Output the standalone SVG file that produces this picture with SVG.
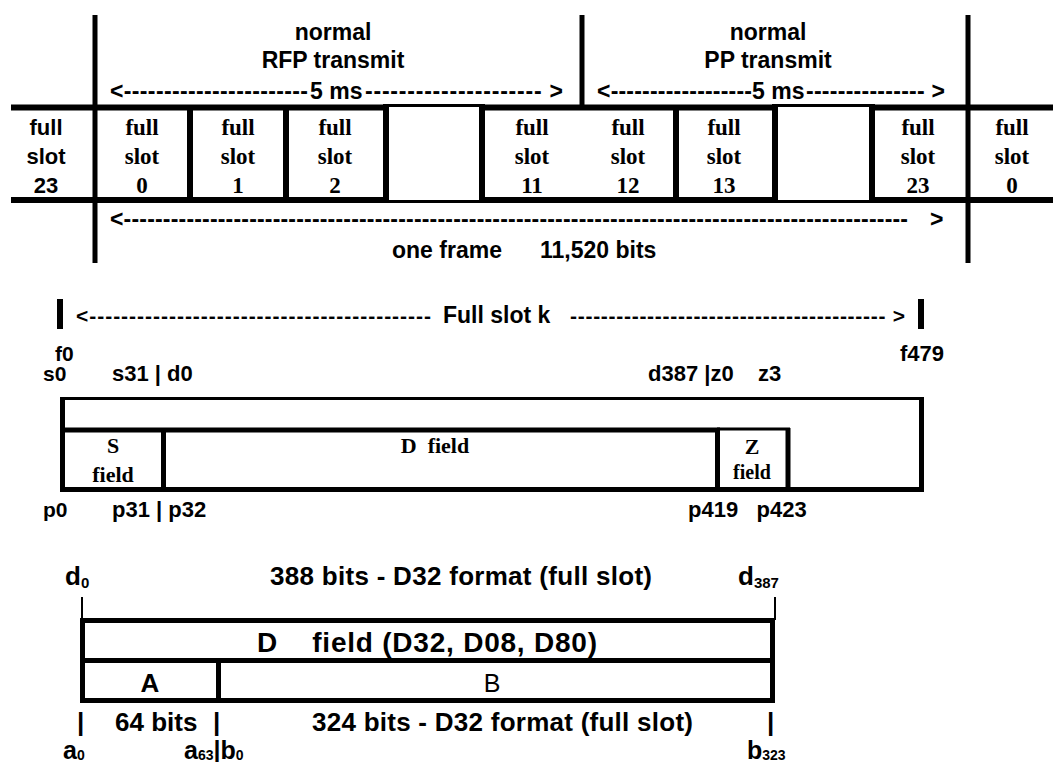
<svg xmlns="http://www.w3.org/2000/svg" width="1053" height="762" viewBox="0 0 1053 762">
<style>
.s{font-family:"Liberation Sans",Arial,sans-serif;font-weight:bold;fill:#000}
.n{font-family:"Liberation Sans",Arial,sans-serif;font-weight:normal;fill:#000}
.t{font-family:"Liberation Serif","Times New Roman",serif;font-weight:bold;fill:#000}
.c{text-anchor:middle}
.k{stroke:#000;fill:none;stroke-linecap:butt}
</style>
<rect width="1053" height="762" fill="#fff"/>

<!-- Section 1: frame -->
<g id="frame">
  <line class="k" x1="95" y1="15" x2="95" y2="263" stroke-width="5"/>
  <line class="k" x1="968" y1="15" x2="968" y2="263" stroke-width="5"/>
  <line class="k" x1="582" y1="15" x2="582" y2="110" stroke-width="5"/>
  <line class="k" x1="11" y1="107.5" x2="389" y2="107.5" stroke-width="6"/>
  <line class="k" x1="479" y1="107.5" x2="778" y2="107.5" stroke-width="6"/>
  <line class="k" x1="869" y1="107.5" x2="1053" y2="107.5" stroke-width="6"/>
  <line class="k" x1="11" y1="200" x2="389" y2="200" stroke-width="6"/>
  <line class="k" x1="479" y1="200" x2="778" y2="200" stroke-width="6"/>
  <line class="k" x1="869" y1="200" x2="1053" y2="200" stroke-width="6"/>
  <line class="k" x1="386" y1="105.5" x2="482" y2="105.5" stroke-width="3"/>
  <line class="k" x1="386" y1="201.5" x2="482" y2="201.5" stroke-width="3"/>
  <line class="k" x1="775" y1="105.5" x2="872" y2="105.5" stroke-width="3"/>
  <line class="k" x1="775" y1="201.5" x2="872" y2="201.5" stroke-width="3"/>
  <line class="k" x1="190" y1="105" x2="190" y2="203" stroke-width="6"/>
  <line class="k" x1="286" y1="105" x2="286" y2="203" stroke-width="6"/>
  <line class="k" x1="386" y1="104" x2="386" y2="203" stroke-width="6"/>
  <line class="k" x1="482" y1="104" x2="482" y2="203" stroke-width="6"/>
  <line class="k" x1="676" y1="105" x2="676" y2="203" stroke-width="6"/>
  <line class="k" x1="775" y1="104" x2="775" y2="203" stroke-width="6"/>
  <line class="k" x1="872" y1="104" x2="872" y2="203" stroke-width="6"/>
</g>

<g id="frame-labels" class="s" font-size="23">
  <text class="c" x="333" y="40">normal</text>
  <text class="c" x="333" y="68">RFP transmit</text>
  <text x="110" y="99" textLength="198">&lt;-----------------------</text>
  <text x="310" y="99">5 ms</text>
  <text x="365" y="99" textLength="198">--------------------- &gt;</text>
  <text class="c" x="768" y="40">normal</text>
  <text class="c" x="768" y="68">PP transmit</text>
  <text x="597" y="99" textLength="155">&lt;------------------</text>
  <text x="752" y="99">5 ms</text>
  <text x="806" y="99" textLength="139">--------------- &gt;</text>
  <text x="110" y="227" textLength="798">&lt;----------------------------------------------------------------------------------------------------</text>
  <text x="930" y="227">&gt;</text>
  <text x="392" y="258">one frame</text>
  <text x="540" y="258">11,520 bits</text>
</g>

<g id="slots">
  <text class="s c" font-size="22" x="46"><tspan x="46" y="135">full</tspan><tspan x="46" y="164">slot</tspan><tspan x="46" y="193">23</tspan></text>
  <g class="t c" font-size="23">
    <text x="142"><tspan x="142" y="135">full</tspan><tspan x="142" y="164">slot</tspan><tspan x="142" y="193">0</tspan></text>
    <text x="238"><tspan x="238" y="135">full</tspan><tspan x="238" y="164">slot</tspan><tspan x="238" y="193">1</tspan></text>
    <text x="335"><tspan x="335" y="135">full</tspan><tspan x="335" y="164">slot</tspan><tspan x="335" y="193">2</tspan></text>
    <text x="532"><tspan x="532" y="135">full</tspan><tspan x="532" y="164">slot</tspan><tspan x="532" y="193">11</tspan></text>
    <text x="628"><tspan x="628" y="135">full</tspan><tspan x="628" y="164">slot</tspan><tspan x="628" y="193">12</tspan></text>
    <text x="724"><tspan x="724" y="135">full</tspan><tspan x="724" y="164">slot</tspan><tspan x="724" y="193">13</tspan></text>
    <text x="918"><tspan x="918" y="135">full</tspan><tspan x="918" y="164">slot</tspan><tspan x="918" y="193">23</tspan></text>
    <text x="1012"><tspan x="1012" y="135">full</tspan><tspan x="1012" y="164">slot</tspan><tspan x="1012" y="193">0</tspan></text>
  </g>
</g>

<!-- Section 2: full slot -->
<g id="fullslot">
  <rect x="57" y="299" width="6" height="30" fill="#000"/>
  <rect x="918" y="299" width="6" height="30" fill="#000"/>
  <g class="s" font-size="21">
    <text x="76" y="323" textLength="355">&lt;-------------------------------------------</text>
    <text x="443" y="323" font-size="23">Full slot k</text>
    <text x="570" y="323" textLength="335">----------------------------------------- &gt;</text>
    <text x="55" y="361">f0</text>
    <text x="900" y="361" font-size="22">f479</text>
    <text x="43" y="381">s0</text>
    <text x="112" y="381" font-size="22">s31 | d0</text>
    <text x="648" y="381" font-size="22" xml:space="preserve">d387 |z0    z3</text>
    <text x="43" y="517">p0</text>
    <text x="112" y="517" font-size="22">p31 | p32</text>
    <text x="688" y="517" font-size="22" xml:space="preserve">p419   p423</text>
  </g>
  <line class="k" x1="60" y1="398.5" x2="924" y2="398.5" stroke-width="3"/>
  <line class="k" x1="62.5" y1="397" x2="62.5" y2="492" stroke-width="5"/>
  <line class="k" x1="921.5" y1="397" x2="921.5" y2="492" stroke-width="5"/>
  <line class="k" x1="60" y1="489.5" x2="924" y2="489.5" stroke-width="5"/>
  <line class="k" x1="60" y1="430" x2="720" y2="430" stroke-width="5"/>
  <line class="k" x1="717" y1="429" x2="790" y2="429" stroke-width="3"/>
  <line class="k" x1="163.5" y1="428" x2="163.5" y2="492" stroke-width="5"/>
  <line class="k" x1="717.5" y1="428" x2="717.5" y2="492" stroke-width="5"/>
  <line class="k" x1="788" y1="428" x2="788" y2="492" stroke-width="5"/>
  <g class="t c" font-size="22">
    <text x="113" y="453">S</text>
    <text x="113" y="482">field</text>
    <text x="435" y="453" xml:space="preserve">D  field</text>
    <text x="752" y="454">Z</text>
    <text x="752" y="479" font-size="20">field</text>
  </g>
</g>

<!-- Section 3: D field -->
<g id="dfield" class="s" font-size="26">
  <text x="65" y="585">d<tspan font-size="15" dy="3">0</tspan></text>
  <text x="270" y="585" textLength="382">388 bits - D32 format (full slot)</text>
  <text x="738" y="585">d<tspan font-size="15" dy="3">387</tspan></text>
  <line class="k" x1="82" y1="597" x2="82" y2="620" stroke-width="2"/>
  <line class="k" x1="775" y1="597" x2="775" y2="620" stroke-width="2"/>
  <rect x="82.5" y="620.5" width="690" height="80" fill="none" stroke="#000" stroke-width="5"/>
  <line class="k" x1="80" y1="660.5" x2="775" y2="660.5" stroke-width="5"/>
  <line class="k" x1="218.5" y1="660" x2="218.5" y2="701" stroke-width="5"/>
  <text x="257" y="652" font-size="28" xml:space="preserve" textLength="340">D    field (D32, D08, D80)</text>
  <text class="c" x="150" y="692">A</text>
  <text class="n c" x="492" y="692" font-size="25">B</text>
  <text x="77" y="731">|</text>
  <text x="115" y="731">64 bits</text>
  <text x="213" y="731">|</text>
  <text x="312" y="731" textLength="381">324 bits - D32 format (full slot)</text>
  <text x="767" y="731">|</text>
  <text x="63" y="759" font-size="25">a<tspan font-size="14" dy="1">0</tspan></text>
  <text x="184" y="759" font-size="25">a<tspan font-size="14" dy="1">63</tspan><tspan dy="-1">|b</tspan><tspan font-size="14" dy="1">0</tspan></text>
  <text x="747" y="759" font-size="25">b<tspan font-size="14" dy="1">323</tspan></text>
</g>
</svg>
